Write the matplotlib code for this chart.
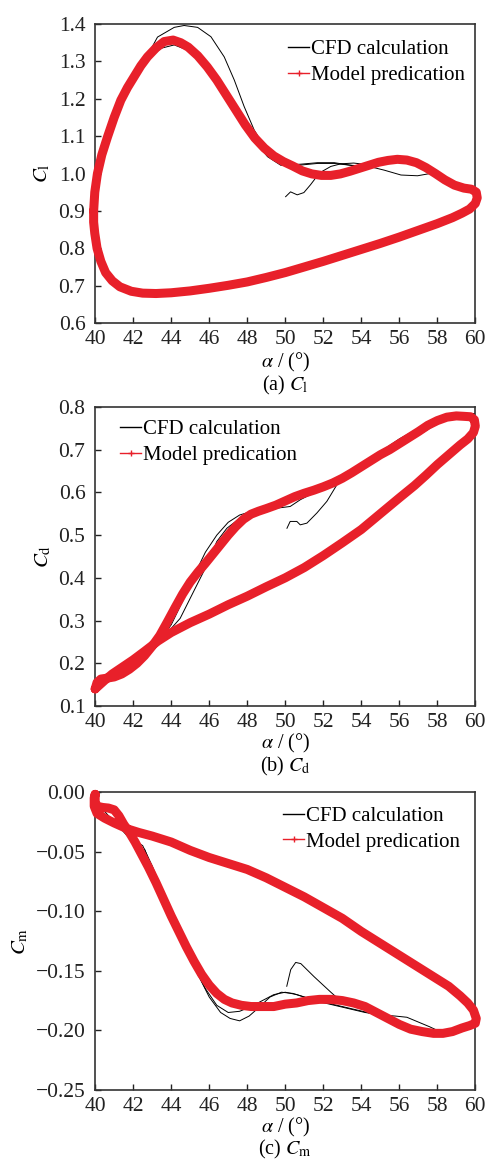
import matplotlib
matplotlib.use('Agg')
import matplotlib.pyplot as plt
from matplotlib.lines import Line2D
from matplotlib.ticker import FuncFormatter
import numpy as np

plt.rcParams['font.family'] = ['Liberation Serif', 'DejaVu Serif']
plt.rcParams['mathtext.fontset'] = 'stix'

RED = '#e8202a'

# ---------------- (a) lift coefficient ----------------
cl_model_a = np.array([39.92, 39.98, 40.12, 40.35, 40.65, 41.0, 41.35, 41.7, 42.05, 42.4, 42.75,
                       43.2, 43.63, 44.1, 44.5, 44.9, 45.4, 45.9, 46.4, 46.9, 47.4, 47.9, 48.4,
                       48.9, 49.4, 49.9, 50.4, 50.9, 51.4, 51.9, 52.4, 52.9, 53.4, 53.9, 54.4,
                       54.9, 55.4, 55.9, 56.4, 56.9, 57.4, 57.9, 58.4, 58.9, 59.4, 59.8, 60.05,
                       60.1, 60.0, 59.7, 59.3, 58.8, 58.0, 57.0, 56.0, 55.0, 54.0, 53.0, 52.0,
                       51.0, 50.0, 49.0, 48.0, 47.0, 46.0, 45.0, 44.0, 43.2, 42.5, 41.9, 41.3,
                       40.9, 40.55, 40.3, 40.1, 39.98, 39.92, 39.92])
cl_model_c = np.array([0.90, 0.95, 1.0, 1.05, 1.098, 1.15, 1.196, 1.23, 1.259, 1.288, 1.312,
                       1.336, 1.353, 1.357, 1.35, 1.338, 1.315, 1.285, 1.25, 1.21, 1.17, 1.13,
                       1.095, 1.068, 1.047, 1.032, 1.02, 1.007, 0.999, 0.995, 0.995, 0.999,
                       1.006, 1.014, 1.022, 1.03, 1.035, 1.038, 1.036, 1.029, 1.016, 1.0,
                       0.983, 0.969, 0.961, 0.958, 0.95, 0.935, 0.92, 0.905, 0.894, 0.882,
                       0.866, 0.848, 0.83, 0.813, 0.797, 0.781, 0.765, 0.75, 0.735, 0.722,
                       0.71, 0.701, 0.693, 0.686, 0.681, 0.679, 0.68, 0.685, 0.697, 0.713,
                       0.735, 0.765, 0.8, 0.84, 0.87, 0.90])

cl_cfd1_a = [40.0, 40.6, 41.4, 42.2, 42.8, 43.28, 44.16, 44.68, 45.39, 46.09, 46.79, 47.32,
             47.84, 48.37, 49.07, 49.77, 50.47, 51.7, 52.58, 53.46, 54.33, 55.21, 56.09,
             56.96, 57.84, 58.72, 59.6, 59.95]
cl_cfd1_c = [0.95, 1.08, 1.19, 1.262, 1.32, 1.365, 1.391, 1.396, 1.391, 1.366, 1.312, 1.25,
             1.179, 1.116, 1.058, 1.027, 1.021, 1.027, 1.027, 1.022, 1.02, 1.009, 0.996,
             0.994, 1.002, 0.982, 0.96, 0.955]
cl_cfd2_a = [40.0, 40.5, 41.2, 42.05, 42.75, 43.46, 44.16, 44.86, 45.91, 46.96, 47.67, 48.37,
             49.07, 49.77, 50.82, 51.7, 52.58, 53.46, 53.98, 54.5]
cl_cfd2_c = [0.93, 1.06, 1.165, 1.248, 1.304, 1.335, 1.344, 1.33, 1.277, 1.205, 1.143, 1.089,
             1.045, 1.022, 1.025, 1.029, 1.029, 1.022, 1.018, 1.02]
cl_start_a = [50.02, 50.28, 50.63, 50.98, 51.33, 51.6, 51.95, 52.4, 52.93, 53.6, 54.3]
cl_start_c = [0.938, 0.951, 0.943, 0.949, 0.97, 0.988, 1.006, 1.019, 1.026, 1.028, 1.024]

# ---------------- (b) drag coefficient ----------------
cd_model_a = np.array([40.0, 40.1, 40.3, 40.6, 41.0, 41.4, 41.8, 42.2, 42.6, 43.0, 43.4, 43.8,
                       44.2, 44.6, 45.0, 45.4, 45.8, 46.2, 46.6, 47.0, 47.4, 47.8, 48.2, 48.6,
                       49.0, 49.5, 50.0, 50.5, 51.0, 51.5, 52.0, 52.5, 53.0, 53.5, 54.0, 54.5,
                       55.0, 55.5, 56.0, 56.5, 57.0, 57.5, 58.0, 58.5, 59.0, 59.4, 59.75, 59.95,
                       60.0, 59.9, 59.6, 59.2, 58.6, 58.0, 57.4, 56.8, 56.0, 55.0, 54.0, 53.0,
                       52.0, 51.0, 50.0, 49.0, 48.0, 47.0, 46.0, 45.0, 44.0, 43.3, 42.6, 42.0,
                       41.4, 40.9, 40.5, 40.2, 40.0])
cd_model_c = np.array([0.14, 0.155, 0.163, 0.165, 0.168, 0.175, 0.186, 0.2, 0.218, 0.24,
                       0.265, 0.297, 0.33, 0.362, 0.39, 0.413, 0.434, 0.456, 0.478, 0.5, 0.52,
                       0.537, 0.549, 0.556, 0.562, 0.57, 0.58, 0.59, 0.598, 0.605, 0.613,
                       0.622, 0.633, 0.646, 0.66, 0.674, 0.688, 0.7, 0.714, 0.728, 0.742,
                       0.757, 0.768, 0.776, 0.779, 0.778, 0.777, 0.77, 0.755, 0.74, 0.725,
                       0.711, 0.688, 0.665, 0.64, 0.616, 0.587, 0.55, 0.513, 0.482, 0.452,
                       0.424, 0.4, 0.379, 0.357, 0.337, 0.315, 0.295, 0.272, 0.252, 0.228,
                       0.208, 0.19, 0.175, 0.16, 0.148, 0.14])

cd_cfd1_a = [41.0, 42.0, 43.0, 44.0, 44.6, 45.2, 45.8, 46.4, 47.0, 47.6, 48.2, 48.8, 49.4,
             50.0, 51.0, 52.0, 53.0, 54.0, 55.0, 56.0, 57.0, 58.0, 59.0, 60.0]
cd_cfd1_c = [0.165, 0.19, 0.23, 0.29, 0.345, 0.405, 0.46, 0.5, 0.53, 0.547, 0.555, 0.558,
             0.565, 0.575, 0.59, 0.608, 0.63, 0.665, 0.695, 0.725, 0.75, 0.768, 0.78, 0.785]
cd_cfd2_a = [43.77, 44.47, 45.18, 45.88, 46.4, 46.93, 47.63, 48.5, 49.56, 50.26, 50.8, 52.0,
             54.0, 56.05, 57.8]
cd_cfd2_c = [0.27, 0.305, 0.368, 0.43, 0.485, 0.516, 0.54, 0.555, 0.563, 0.567, 0.583, 0.61,
             0.66, 0.708, 0.755]
cd_start_a = [50.09, 50.26, 50.61, 50.79, 51.14, 51.67, 52.19, 52.72, 53.07]
cd_start_c = [0.516, 0.532, 0.532, 0.524, 0.528, 0.552, 0.579, 0.618, 0.634]

# ---------------- (c) moment coefficient ----------------
cm_model_a = np.array([40.0, 40.0, 40.1, 40.4, 40.7, 41.0, 41.25, 41.5, 41.8, 42.1, 42.4,
                       42.8, 43.2, 43.6, 44.0, 44.4, 44.8, 45.2, 45.6, 46.0, 46.4, 46.8, 47.2,
                       47.7, 48.2, 48.8, 49.4, 50.0, 50.6, 51.2, 51.8, 52.4, 53.0, 53.6, 54.2,
                       54.8, 55.4, 56.0, 56.6, 57.2, 57.8, 58.3, 58.8, 59.3, 59.7, 60.0, 60.05,
                       59.9, 59.6, 59.2, 58.6, 58.0, 57.0, 56.0, 55.0, 54.0, 53.0, 52.0, 51.0,
                       50.0, 49.0, 48.0, 47.0, 46.0, 45.0, 44.0, 43.0, 42.3, 41.7, 41.0, 40.5,
                       40.1, 39.95, 39.95, 40.0])
cm_model_c = np.array([-0.002, -0.008, -0.012, -0.013, -0.0135, -0.015, -0.02, -0.027,
                       -0.034, -0.042, -0.051, -0.063, -0.076, -0.09, -0.104, -0.117, -0.13,
                       -0.142, -0.153, -0.162, -0.169, -0.174, -0.177, -0.179, -0.18, -0.18,
                       -0.18, -0.178, -0.177, -0.175, -0.174, -0.174, -0.175, -0.177, -0.18,
                       -0.185, -0.19, -0.195, -0.199, -0.201, -0.2025, -0.2025, -0.201,
                       -0.198, -0.196, -0.194, -0.19, -0.183, -0.177, -0.171, -0.163, -0.157,
                       -0.147, -0.137, -0.127, -0.117, -0.106, -0.097, -0.088, -0.08, -0.072,
                       -0.065, -0.06, -0.055, -0.049, -0.042, -0.037, -0.034, -0.031, -0.026,
                       -0.022, -0.018, -0.012, -0.005, -0.002])

cm_cfd1_a = [40.3, 41.0, 41.7, 42.5, 43.0, 43.6, 44.2, 44.8, 45.4, 46.0, 46.6, 47.1, 47.6,
             48.1, 48.6, 49.2, 49.8, 50.4, 51.0, 51.8, 52.6, 53.4, 54.2, 55.0, 55.8, 56.4,
             57.0, 57.6, 58.0]
cm_cfd1_c = [-0.013, -0.025, -0.037, -0.045, -0.062, -0.085, -0.108, -0.132, -0.153, -0.172,
             -0.185, -0.19, -0.192, -0.188, -0.181, -0.172, -0.168, -0.169, -0.172, -0.176,
             -0.179, -0.182, -0.185, -0.187, -0.188, -0.189, -0.193, -0.197, -0.2]
cm_cfd2_a = [42.6, 43.4, 44.2, 45.0, 45.8, 46.4, 47.0, 47.6, 48.2, 48.8, 49.4, 50.0, 50.6,
             51.4, 52.2, 53.0, 53.8, 54.6]
cm_cfd2_c = [-0.048, -0.08, -0.11, -0.14, -0.165, -0.179, -0.185, -0.184, -0.18, -0.175,
             -0.17, -0.168, -0.17, -0.174, -0.177, -0.18, -0.183, -0.186]
cm_start_a = [50.08, 50.29, 50.55, 50.82, 51.52, 52.4, 52.75]
cm_start_c = [-0.163, -0.149, -0.143, -0.144, -0.155, -0.168, -0.173]

x_ticks = np.arange(40, 61, 2)
cl_ticks = [0.6, 0.7, 0.8, 0.9, 1.0, 1.1, 1.2, 1.3, 1.4]
cd_ticks = [0.1, 0.2, 0.3, 0.4, 0.5, 0.6, 0.7, 0.8]
cm_ticks = [-0.25, -0.20, -0.15, -0.10, -0.05, 0.00]

panels = [
    dict(rect=(0.195, 0.7227, 0.779, 0.2567), model=(cl_model_a, cl_model_c),
         cfd=[(cl_cfd1_a, cl_cfd1_c), (cl_cfd2_a, cl_cfd2_c), (cl_start_a, cl_start_c)],
         ylim=(0.6, 1.4), yticks=cl_ticks, fmt='{:.1f}', ylabel=r'$C_\mathrm{l}$',
         ylab_x=-0.113, caption=r'(a) $C_\mathrm{l}$', xlab_y=362, cap_y=385,
         leg=(0.508, 0.948)),
    dict(rect=(0.195, 0.394, 0.779, 0.2567), model=(cd_model_a, cd_model_c),
         cfd=[(cd_cfd1_a, cd_cfd1_c), (cd_cfd2_a, cd_cfd2_c), (cd_start_a, cd_start_c)],
         ylim=(0.1, 0.8), yticks=cd_ticks, fmt='{:.1f}', ylabel=r'$C_\mathrm{d}$',
         ylab_x=-0.11, caption=r'(b) $C_\mathrm{d}$', xlab_y=743, cap_y=766,
         leg=(0.066, 0.958)),
    dict(rect=(0.195, 0.0644, 0.779, 0.2558), model=(cm_model_a, cm_model_c),
         cfd=[(cm_cfd1_a, cm_cfd1_c), (cm_cfd2_a, cm_cfd2_c), (cm_start_a, cm_start_c)],
         ylim=(-0.25, 0.0), yticks=cm_ticks, fmt='{:.2f}', ylabel=r'$C_\mathrm{m}$',
         ylab_x=-0.171, caption=r'(c) $C_\mathrm{m}$', xlab_y=1127, cap_y=1149,
         leg=(0.495, 0.952)),
]

fig = plt.figure(figsize=(4.88, 11.65), dpi=100)

for p in panels:
    ax = fig.add_axes(p['rect'])
    for a, c in p['cfd']:
        ax.plot(a, c, color='black', lw=0.7, zorder=2)
    ax.plot(p['model'][0], p['model'][1], color=RED, lw=6.5, solid_capstyle='round',
            solid_joinstyle='round', zorder=3, clip_on=False)
    ax.set_xlim(40, 60)
    ax.set_ylim(*p['ylim'])
    ax.set_xticks(x_ticks)
    ax.set_yticks(p['yticks'])
    fmt = p['fmt']
    ax.yaxis.set_major_formatter(FuncFormatter(
        lambda v, pos, f=fmt: f.format(v + 0.0).replace('-', '\u2212')))
    ax.tick_params(direction='in', length=4, width=1, labelsize=15.5,
                   top=False, right=False, colors='#222222')
    ax.tick_params(axis='y', pad=7)
    ax.tick_params(axis='x', pad=5)
    for s in ax.spines.values():
        s.set_color('#333333')
        s.set_linewidth(1.2)
    ax.set_ylabel(p['ylabel'], fontsize=15)
    ax.yaxis.set_label_coords(p['ylab_x'], 0.5)

    handles = [Line2D([], [], color='black', lw=1.0),
               Line2D([], [], color=RED, lw=1.0, marker='+', markersize=5, markeredgewidth=1.0)]
    ax.legend(handles, ['CFD calculation', 'Model predication'], loc='upper left',
              bbox_to_anchor=p['leg'], frameon=False, fontsize=15, handlelength=1.0,
              handletextpad=0.1, labelspacing=0.3, borderpad=0, borderaxespad=0)

    fig.text(0.195 + 0.779 / 2, 1 - p['xlab_y'] / 1165, '$\\alpha$ / (°)',
             ha='center', va='center', fontsize=14.5)
    fig.text(0.195 + 0.779 / 2, 1 - p['cap_y'] / 1165, p['caption'],
             ha='center', va='center', fontsize=14.5)

fig.savefig('out.png', dpi=100)
